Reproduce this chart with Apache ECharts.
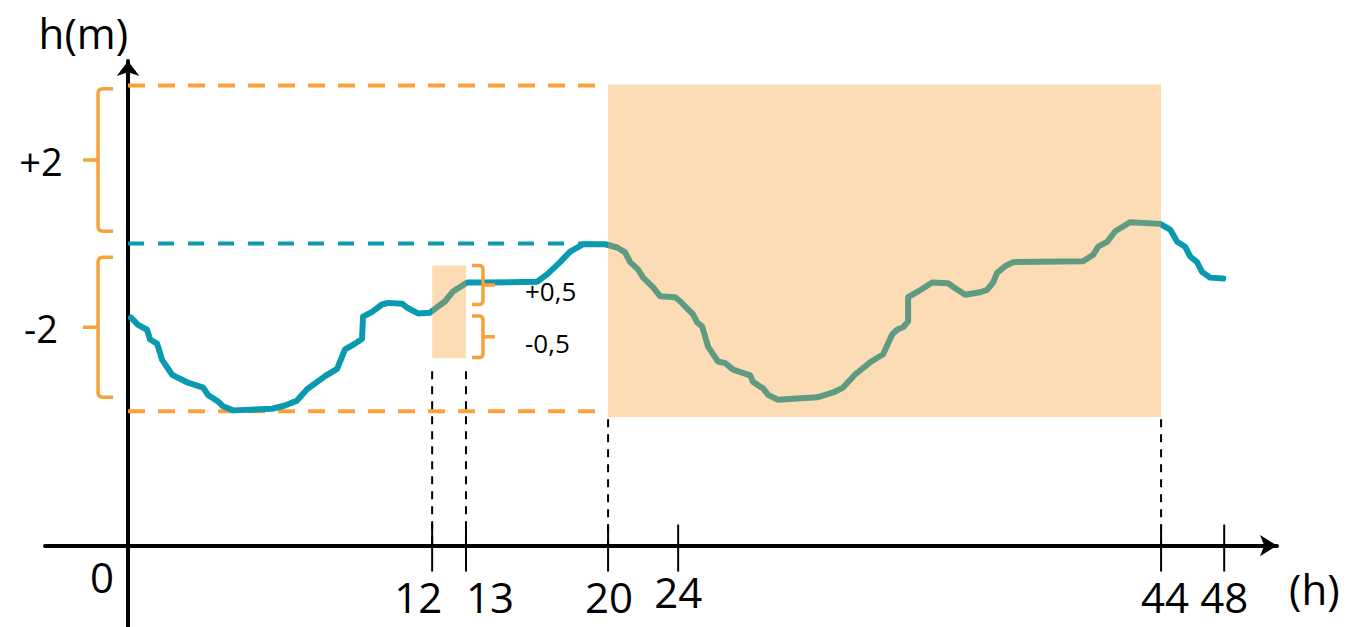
<!DOCTYPE html>
<html>
<head>
<meta charset="utf-8">
<title>h(m)</title>
<script src="https://cdn.jsdelivr.net/npm/echarts@6/dist/echarts.min.js"></script>
<style>
  html, body { margin: 0; padding: 0; background: #fff; }
  #chart { width: 1357px; height: 627px; }
</style>
</head>
<body>
<div id="chart"></div>
<script>
// water level over time; x on the drawn time scale (hours), h in metres
const curveX = [0.12, 0.42, 0.79, 0.92, 1.21, 1.42, 1.83, 2.08, 2.5, 3.13, 3.33, 3.75, 3.96, 4.38,
  6.0, 6.54, 7.04, 7.46, 8.21, 8.71, 9.04, 9.46, 9.75, 9.79, 10.17, 10.58, 10.83, 11.42, 11.63,
  12.08, 12.58, 13.21, 13.54, 14.13, 14.96, 17.04, 17.46, 18.0, 18.42, 18.96, 19.88, 20.38,
  20.71, 20.92, 21.25, 21.46, 21.88, 22.17, 22.79, 23.0, 23.33, 23.54, 23.71, 23.92, 24.17,
  24.58, 24.88, 25.21, 25.92, 26.04, 26.46, 26.67, 27.08, 28.71, 29.38, 29.79, 30.29, 30.92,
  31.46, 31.83, 32.04, 32.29, 32.5, 32.5, 32.92, 33.5, 34.17, 34.46, 34.88, 35.5, 35.79, 36.04,
  36.21, 36.54, 36.88, 39.79, 40.21, 40.42, 40.79, 41.13, 41.75, 43.0, 43.42, 43.71, 44.04,
  44.25, 44.54, 44.75, 45.08, 45.63];
const curveH = [2.80, 2.71, 2.65, 2.53, 2.48, 2.28, 2.10, 2.06, 2.00, 1.94, 1.85, 1.77, 1.71, 1.66,
  1.68, 1.72, 1.78, 1.92, 2.08, 2.17, 2.41, 2.48, 2.54, 2.81, 2.87, 2.96, 2.98, 2.97, 2.92,
  2.85, 2.86, 3.00, 3.12, 3.23, 3.23, 3.24, 3.33, 3.48, 3.61, 3.70, 3.70, 3.66,
  3.60, 3.48, 3.39, 3.29, 3.17, 3.06, 3.05, 3.00, 2.90, 2.84, 2.74, 2.69, 2.44,
  2.26, 2.24, 2.16, 2.09, 2.01, 1.93, 1.85, 1.79, 1.82, 1.88, 1.94, 2.10, 2.25,
  2.35, 2.59, 2.65, 2.68, 2.75, 3.05, 3.12, 3.23, 3.22, 3.16, 3.08, 3.11, 3.14, 3.23,
  3.35, 3.43, 3.48, 3.49, 3.57, 3.67, 3.73, 3.86, 3.97, 3.95, 3.88, 3.73, 3.67,
  3.55, 3.48, 3.36, 3.29, 3.28];

// labelled hours and where they sit on the drawn time scale
const tickLabels = ['12', '13', '20', '24', '44', '48'];
const tickAt = [12.67, 14.08, 20, 22.92, 43.04, 45.67];

// reference levels (m)
const levelHigh = 5.65;
const levelMean = 3.71;
const levelLow = 1.65;

// shaded windows: [low, high] in m
const bigBand = [1.58, 5.66];   // 20 h -> 44 h
const smallBand = [2.30, 3.44]; // 12 h -> 13 h

// braces: [top, bottom] in m, with their labels
const bigBraces = [[5.61, 3.86], [3.54, 1.82]];
const bigBraceLabels = ['+2', '-2'];
const smallBraces = [[3.44, 2.96], [2.82, 2.31]];
const smallBraceLabels = ['+0,5', '-0,5'];

// dashed drop lines under ticks 12, 13, 20, 44
const guideTicks = [0, 1, 2, 4];
const guideFrom = [2.14, 2.14, 1.55, 1.55];

const TEAL = '#0a9ab0';
const ORANGE = '#f8a13a';
const FONT = '"Open Sans", "Noto Sans", sans-serif';

function txt(text, x, y, size, align) {
  return {
    type: 'text',
    style: {
      text: text, x: x, y: y,
      fontSize: size, fontFamily: FONT, fill: '#000',
      align: align, textAlign: align,
      verticalAlign: 'middle', textVerticalAlign: 'middle'
    }
  };
}

// small offsets of the tick labels from their ticks (px)
const tickLabelShift = [[-14, 0], [24, 0], [1, 0], [0, -5], [4, 0], [0, 0]];

const chart = echarts.init(document.getElementById('chart'), null, { renderer: 'svg' });

chart.setOption({
  animation: false,
  backgroundColor: '#fff',
  grid: { left: 45, right: 80, top: 61, bottom: 0 },
  xAxis: {
    type: 'value',
    min: -3.46,
    max: 47.87,
    name: '(h)',
    nameLocation: 'end',
    nameGap: 12,
    nameTextStyle: {
      fontSize: 42, fontFamily: FONT, color: '#000',
      verticalAlign: 'top', padding: [22, 0, 0, 0]
    },
    axisLine: {
      onZero: true,
      symbol: ['none', 'arrow'],
      symbolSize: [16, 17],
      lineStyle: { color: '#000', width: 4 }
    },
    axisTick: { show: false },
    axisLabel: { show: false },
    splitLine: { show: false }
  },
  yAxis: {
    type: 'value',
    min: -1,
    max: 5.95,
    name: 'h(m)',
    nameLocation: 'end',
    nameGap: 8,
    nameTextStyle: {
      fontSize: 42, fontFamily: FONT, color: '#000', align: 'right'
    },
    axisLine: {
      onZero: true,
      symbol: ['none', 'arrow'],
      symbolSize: [17, 15],
      lineStyle: { color: '#000', width: 4 }
    },
    axisTick: { show: false },
    axisLabel: { show: false },
    splitLine: { show: false }
  },
  series: [
    {
      // dashed reference levels up to the start of the big window
      type: 'custom',
      z: 1,
      silent: true,
      data: [
        [0, tickAt[2], levelHigh, 0],
        [0, tickAt[2], levelMean, 1],
        [0, tickAt[2], levelLow, 0]
      ],
      renderItem: function (params, api) {
        const a = api.coord([api.value(0), api.value(2)]);
        const b = api.coord([api.value(1), api.value(2)]);
        const teal = api.value(3) === 1;
        return {
          type: 'line',
          shape: { x1: a[0], y1: a[1], x2: b[0], y2: b[1] },
          style: {
            stroke: teal ? TEAL : ORANGE,
            lineWidth: 4,
            lineDash: teal ? [16, 14] : [17, 13]
          }
        };
      }
    },
    {
      type: 'line',
      z: 2,
      silent: true,
      showSymbol: false,
      data: curveX.map((x, i) => [x, curveH[i]]),
      lineStyle: { color: TEAL, width: 6, cap: 'round', join: 'round' }
    },
    {
      // shaded windows, drawn over the curve
      type: 'custom',
      z: 3,
      silent: true,
      data: [
        [tickAt[0], tickAt[1], smallBand[0], smallBand[1]],
        [tickAt[2], tickAt[4], bigBand[0], bigBand[1]]
      ],
      renderItem: function (params, api) {
        const p0 = api.coord([api.value(0), api.value(3)]);
        const p1 = api.coord([api.value(1), api.value(2)]);
        return {
          type: 'rect',
          shape: { x: p0[0], y: p0[1], width: p1[0] - p0[0], height: p1[1] - p0[1] },
          style: { fill: 'rgba(247,157,50,0.36)' }
        };
      }
    },
    {
      // drop lines
      type: 'custom',
      z: 4,
      silent: true,
      data: guideTicks.map((t, k) => [tickAt[t], guideFrom[k]]),
      renderItem: function (params, api) {
        const a = api.coord([api.value(0), api.value(1)]);
        const b = api.coord([api.value(0), 0]);
        return {
          type: 'line',
          shape: { x1: a[0], y1: a[1], x2: b[0], y2: b[1] },
          style: { stroke: '#000', lineWidth: 2, lineDash: [8, 7] }
        };
      }
    },
    {
      // ticks and tick labels on the time axis
      type: 'custom',
      z: 5,
      silent: true,
      data: tickAt.map(v => [v, 0]),
      renderItem: function (params, api) {
        const i = params.dataIndex;
        const p = api.coord([api.value(0), 0]);
        const s = tickLabelShift[i];
        const children = [
          {
            type: 'line',
            shape: { x1: p[0], y1: p[1] - 21, x2: p[0], y2: p[1] + 26 },
            style: { stroke: '#000', lineWidth: 2 }
          },
          txt(tickLabels[i], p[0] + s[0], p[1] + 51 + s[1], 42, 'center')
        ];
        if (i === 0) {
          const o = api.coord([0, 0]);
          children.push(txt('0', o[0] - 26, o[1] + 31, 42, 'center'));
        }
        return { type: 'group', children: children };
      }
    },
    {
      // braces beside the height axis
      type: 'custom',
      z: 5,
      silent: true,
      data: bigBraces.map(b => [0, b[0], b[1]]),
      renderItem: function (params, api) {
        const top = api.coord([0, api.value(1)]);
        const bot = api.coord([0, api.value(2)]);
        const xv = top[0] - 30, xh = top[0] - 15, xt = top[0] - 45;
        const y1 = top[1], y2 = bot[1], ym = (y1 + y2) / 2, r = 5;
        const d = 'M' + xh + ' ' + y1 + ' L' + (xv + r) + ' ' + y1 +
          ' Q' + xv + ' ' + y1 + ' ' + xv + ' ' + (y1 + r) +
          ' L' + xv + ' ' + (y2 - r) +
          ' Q' + xv + ' ' + y2 + ' ' + (xv + r) + ' ' + y2 +
          ' L' + xh + ' ' + y2 +
          ' M' + xt + ' ' + ym + ' L' + xv + ' ' + ym;
        return {
          type: 'group',
          children: [
            {
              type: 'path',
              shape: { pathData: d },
              style: { stroke: ORANGE, lineWidth: 3.5, fill: null }
            },
            txt(bigBraceLabels[params.dataIndex], top[0] - 87, ym + 1, 38, 'center')
          ]
        };
      }
    },
    {
      // braces beside the small window
      type: 'custom',
      z: 5,
      silent: true,
      data: smallBraces.map(b => [tickAt[1], b[0], b[1]]),
      renderItem: function (params, api) {
        const top = api.coord([api.value(0), api.value(1)]);
        const bot = api.coord([api.value(0), api.value(2)]);
        const xv = top[0] + 17, xh = top[0] + 6, xt = top[0] + 29;
        const y1 = top[1], y2 = bot[1], ym = (y1 + y2) / 2, r = 4;
        const d = 'M' + xh + ' ' + y1 + ' L' + (xv - r) + ' ' + y1 +
          ' Q' + xv + ' ' + y1 + ' ' + xv + ' ' + (y1 + r) +
          ' L' + xv + ' ' + (y2 - r) +
          ' Q' + xv + ' ' + y2 + ' ' + (xv - r) + ' ' + y2 +
          ' L' + xh + ' ' + y2 +
          ' M' + xv + ' ' + ym + ' L' + xt + ' ' + ym;
        return {
          type: 'group',
          children: [
            {
              type: 'path',
              shape: { pathData: d },
              style: { stroke: ORANGE, lineWidth: 3.5, fill: null }
            },
            txt(smallBraceLabels[params.dataIndex], top[0] + 59, ym + 6, 26, 'left')
          ]
        };
      }
    }
  ]
});
</script>
</body>
</html>
